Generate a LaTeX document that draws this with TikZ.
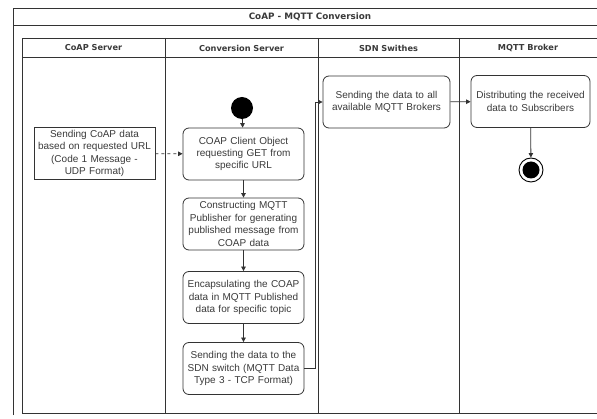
\documentclass[tikz,border=0pt]{standalone}
\usepackage{fontspec}
\setmainfont{Liberation Sans}
\newfontfamily\hdrfont{DejaVu Sans}
\usetikzlibrary{arrows.meta}
\definecolor{ln}{HTML}{333333}
\definecolor{txt}{HTML}{3A3A3A}
\tikzset{
  frame/.style={draw=ln, line width=0.8pt},
  hdr/.style={font=\hdrfont\bfseries\fontsize{8.2}{10}\selectfont, text=txt},
  ttl/.style={font=\hdrfont\bfseries\fontsize{8.8}{10}\selectfont, text=txt},
  actbox/.style={draw=ln, line width=0.8pt, rounded corners=6pt, align=center, inner sep=1pt,
    minimum width=121pt, minimum height=52pt, text width=119pt, text=txt,
    font=\fontsize{10}{12.4}\selectfont},
  sqbox/.style={actbox, rounded corners=0pt},
  conn/.style={draw=ln, line width=0.8pt, -{Triangle[length=4.5pt,width=4.5pt]}},
}
\begin{document}
\begin{tikzpicture}[x=1pt,y=-1pt]
\useasboundingbox (0,0) rectangle (597,419);
\fill[white] (0,0) rectangle (597,419);
% outer pool
\draw[frame] (13,415) -- (13,8) -- (600,8);
\draw[frame] (13,25) -- (600,25);
\node[ttl] (title) at (310,17) {CoAP - MQTT Conversion};
% lanes
\draw[frame] (600,38) -- (22,38) -- (22,413) -- (600,413);
\draw[frame] (22,57) -- (600,57);
\draw[frame] (165,38) -- (165,413);
\draw[frame] (318,38) -- (318,413);
\draw[frame] (459,38) -- (459,413);
\node[hdr] (h1) at (93.5,48) {CoAP Server};
\node[hdr] (h2) at (241.5,48) {Conversion Server};
\node[hdr] (h3) at (388.5,48) {SDN Swithes};
\node[hdr] (h4) at (528,48) {MQTT Broker};
% nodes
\node[circle, fill=black, minimum size=22pt, inner sep=0pt] (start) at (242,108) {};
\node[sqbox] (coap) at (94.5,153.5) {Sending CoAP data\\based on requested URL\\(Code 1 Message -\\UDP Format)};
\node[actbox] (client) at (243.5,154) {COAP Client Object\\requesting GET from\\specific URL};
\node[actbox] (construct) at (243.5,224) {Constructing MQTT\\Publisher for generating\\published message from\\COAP data};
\node[actbox] (encap) at (243.5,297.5) {Encapsulating the COAP\\data in MQTT Published\\data for specific topic};
\node[actbox] (send) at (243.5,368.5) {Sending the data to the\\SDN switch (MQTT Data\\Type 3 - TCP Format)};
\node[actbox, minimum width=127pt, text width=125pt] (sdn) at (386.5,102) {Sending the data to all\\available MQTT Brokers};
\node[actbox, minimum width=119pt, text width=117pt] (mqtt) at (530.5,101.5) {Distributing the received\\data to Subscribers};
\node[circle, draw=black, line width=0.9pt, minimum size=24pt, inner sep=0pt] (end) at (531,170) {};
\node[circle, fill=black, minimum size=17pt, inner sep=0pt] (endin) at (531,170) {};
% connectors
\draw[conn] (start) -- (client);
\draw[conn, dashed] (coap) -- (client);
\draw[conn] (client) -- (construct);
\draw[conn] (construct) -- (encap);
\draw[conn] (encap) -- (send);
\draw[conn] (send.east) -- ++(11,0) |- (sdn.west);
\draw[conn] (sdn) -- (mqtt);
\draw[conn] (mqtt) -- (end);
\end{tikzpicture}
\end{document}
